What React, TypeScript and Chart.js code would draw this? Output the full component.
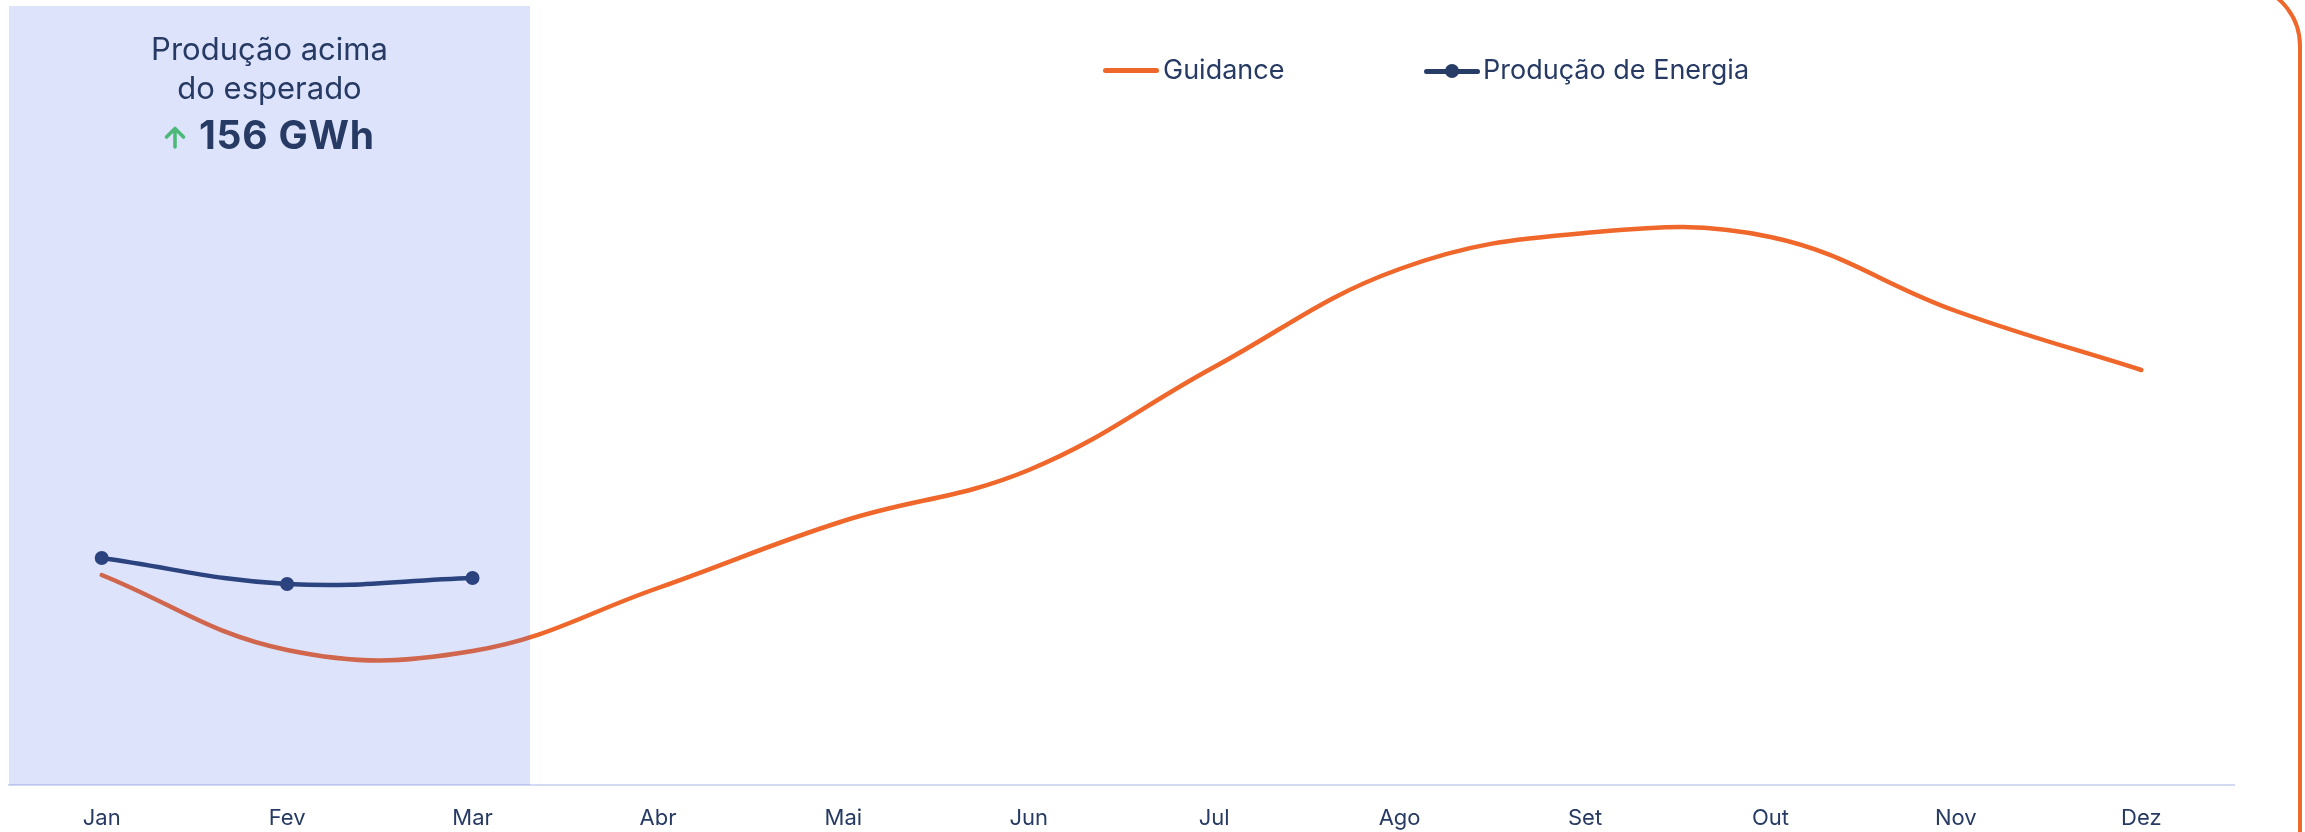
import React, { useEffect, useRef } from "react";
import { Chart, registerables } from "chart.js";

Chart.register(...registerables);

// ---- data ----
const months = ["Jan", "Fev", "Mar", "Abr", "Mai", "Jun", "Jul", "Ago", "Set", "Out", "Nov", "Dez"];
const guidance = [210, 135, 134, 197, 264, 315, 418, 516, 552, 548, 474, 415];
const production = [227, 201, 207];
const yMin = 0;
const yMax = 700;
const highlightEndIndex = 2.31; // shaded "realised" period, in category units
const highlightTopValue = 779;

const ORANGE = "#f0672b";
const NAVY = "#273c67";
const TEXT = "#263a63";
const SHADE = "rgba(67,100,233,0.18)";
const GREEN = "#4cb97a";
const FONT = "Inter, 'Noto Sans', sans-serif";

const shadePlugin = {
  id: "shadePeriod",
  afterDatasetsDraw(chart: any) {
    const { ctx, chartArea, scales } = chart;
    const x0 = chartArea.left;
    const x1 = scales.x.getPixelForValue(highlightEndIndex);
    const y0 = scales.y.getPixelForValue(highlightTopValue);
    const y1 = chartArea.bottom;
    ctx.save();
    ctx.fillStyle = SHADE;
    ctx.fillRect(x0, y0, x1 - x0, y1 - y0);
    ctx.restore();
  },
};

function ChartCanvas() {
  const ref = useRef<HTMLCanvasElement | null>(null);
  useEffect(() => {
    if (!ref.current) return;
    const chart = new Chart(ref.current, {
      type: "line",
      data: {
        labels: months,
        datasets: [
          {
            label: "Guidance",
            data: guidance,
            borderColor: ORANGE,
            borderWidth: 4.5,
            tension: 0.4,
            pointRadius: 0,
            borderCapStyle: "round",
            fill: false,
          },
          {
            label: "Produção de Energia",
            data: production,
            borderColor: NAVY,
            backgroundColor: NAVY,
            borderWidth: 4.5,
            tension: 0.4,
            pointRadius: 6,
            pointBorderWidth: 2,
            pointBackgroundColor: NAVY,
            pointBorderColor: NAVY,
            borderCapStyle: "round",
            fill: false,
          },
        ],
      },
      options: {
        animation: false,
        responsive: false,
        maintainAspectRatio: false,
        layout: { padding: { left: 9, right: 71, top: 85, bottom: 0 } },
        plugins: {
          legend: { display: false },
          tooltip: { enabled: false },
        },
        scales: {
          x: {
            type: "category",
            offset: true,
            grid: { display: false, drawTicks: false },
            border: { display: true, color: "#d3daf2", width: 2 },
            ticks: {
              color: TEXT,
              font: { family: FONT, size: 22 },
              padding: 20,
              maxRotation: 0,
              autoSkip: false,
            },
            afterFit(scale: any) {
              scale.height = 47;
            },
          },
          y: { display: false, min: yMin, max: yMax },
        },
      },
      plugins: [shadePlugin],
    } as any);
    return () => chart.destroy();
  }, []);
  return (
    <canvas
      ref={ref}
      width={2305}
      height={832}
      style={{ position: "absolute", left: 0, top: 0, width: 2305, height: 832 }}
    />
  );
}

export default function App() {
  const textBase: React.CSSProperties = {
    position: "absolute",
    fontFamily: FONT,
    color: TEXT,
    whiteSpace: "nowrap",
    lineHeight: 1,
  };
  return (
    <div
      style={{
        position: "fixed",
        left: 0,
        top: 0,
        width: 2305,
        height: 832,
        overflow: "hidden",
        background: "#ffffff",
      }}
    >
      <ChartCanvas />
      {/* card outline */}
      <div
        style={{
          position: "absolute",
          left: -200,
          right: 3,
          top: -18,
          bottom: -200,
          border: `4px solid ${ORANGE}`,
          borderRadius: 64,
          pointerEvents: "none",
        }}
      />
      {/* highlight text */}
      <div style={{ ...textBase, left: 9, width: 521, top: 32.5, textAlign: "center", fontSize: 31 }}>
        Produção acima
      </div>
      <div style={{ ...textBase, left: 9, width: 521, top: 72, textAlign: "center", fontSize: 31 }}>
        do esperado
      </div>
      <svg
        width={24}
        height={24}
        viewBox="0 0 24 24"
        style={{ position: "absolute", left: 163, top: 125 }}
      >
        <path d="M12 22 L12 4 M3.5 12 L12 3.5 L20.5 12" stroke={GREEN} strokeWidth={3.6} fill="none" strokeLinecap="round" strokeLinejoin="round" />
      </svg>
      <div style={{ ...textBase, left: 199, top: 115, fontSize: 39, fontWeight: 700, letterSpacing: 0.8 }}>156 GWh</div>
      {/* legend */}
      <div style={{ position: "absolute", left: 1103, top: 68, width: 56, height: 5, borderRadius: 3, background: ORANGE }} />
      <div style={{ ...textBase, left: 1163, top: 56, fontSize: 27 }}>Guidance</div>
      <div style={{ position: "absolute", left: 1424, top: 68.5, width: 56, height: 5, borderRadius: 3, background: NAVY }} />
      <div style={{ position: "absolute", left: 1445, top: 64, width: 14, height: 14, borderRadius: 7, background: NAVY }} />
      <div style={{ ...textBase, left: 1483, top: 56, fontSize: 27 }}>Produção de Energia</div>
    </div>
  );
}
